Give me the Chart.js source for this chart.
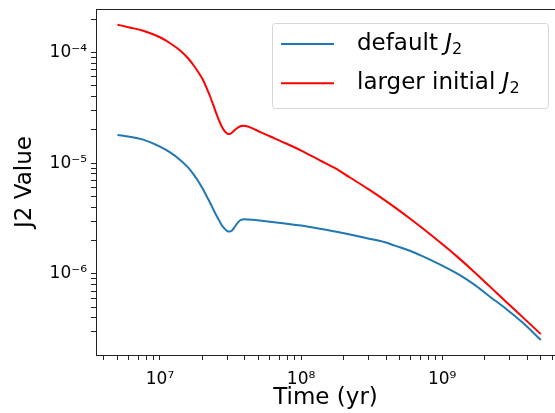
<!DOCTYPE html>
<html>
<head>
<meta charset="utf-8">
<script src="https://cdn.jsdelivr.net/npm/chart.js@4"></script>
<style>
  html, body { margin: 0; padding: 0; background: #fff; overflow: hidden; }
</style>
</head>
<body>
<canvas id="chart-j2" width="555" height="413"></canvas>
<script>
// time in years
const times = [
    5e6, 6.1e6, 7.6e6, 1e7, 1.18e7, 1.39e7, 1.58e7, 1.74e7, 1.89e7, 2.02e7,
    2.15e7, 2.26e7, 2.37e7, 2.49e7, 2.62e7, 2.75e7, 2.89e7, 3.0e7, 3.1e7, 3.24e7,
    3.4e7, 3.57e7, 3.75e7, 3.94e7, 4.2e7, 4.56e7, 5.1e7, 6e7, 7.7e7, 1e8,
    1.36e8, 1.74e8, 2.22e8, 2.98e8, 3.93e8, 4.62e8, 5.9e8, 7.3e8, 9.6e8, 1.27e9,
    1.65e9, 2.18e9, 2.87e9, 3.73e9, 5e9
];
const defaultJ2 = [
    1.80e-5, 1.73e-5, 1.63e-5, 1.41e-5, 1.25e-5, 1.07e-5, 9.15e-6, 7.83e-6, 6.70e-6, 5.81e-6,
    4.98e-6, 4.42e-6, 3.90e-6, 3.44e-6, 3.06e-6, 2.74e-6, 2.54e-6, 2.43e-6, 2.41e-6, 2.47e-6,
    2.68e-6, 2.92e-6, 3.08e-6, 3.11e-6, 3.10e-6, 3.08e-6, 3.03e-6, 2.96e-6, 2.85e-6, 2.73e-6,
    2.56e-6, 2.42e-6, 2.27e-6, 2.09e-6, 1.93e-6, 1.80e-6, 1.62e-6, 1.44e-6, 1.22e-6, 1.01e-6,
    8.17e-7, 6.23e-7, 4.78e-7, 3.62e-7, 2.53e-7
];
const largerJ2 = [
    1.78e-4, 1.68e-4, 1.57e-4, 1.37e-4, 1.21e-4, 1.04e-4, 8.86e-5, 7.58e-5, 6.49e-5, 5.63e-5,
    4.70e-5, 4.04e-5, 3.43e-5, 2.88e-5, 2.43e-5, 2.12e-5, 1.93e-5, 1.85e-5, 1.83e-5, 1.89e-5,
    2.00e-5, 2.10e-5, 2.17e-5, 2.18e-5, 2.14e-5, 2.05e-5, 1.92e-5, 1.75e-5, 1.52e-5, 1.30e-5,
    1.06e-5, 9.02e-6, 7.42e-6, 5.86e-6, 4.62e-6, 3.99e-6, 3.17e-6, 2.57e-6, 1.94e-6, 1.44e-6,
    1.07e-6, 7.68e-7, 5.53e-7, 4.05e-7, 2.86e-7
];
const seriesNames = ['default', 'larger initial'];
const seriesColors = ['#1f77b4', '#ff0000'];
const xTicks = [1e7, 1e8, 1e9];
const xTickLabels = ['10\u2077', '10\u2078', '10\u2079'];
const yTicks = [1e-6, 1e-5, 1e-4];
const yTickLabels = ['10\u207B\u2076', '10\u207B\u2075', '10\u207B\u2074'];

const FONT = '"DejaVu Sans", sans-serif';

function isDecadeStep(v) {
    const exp = Math.floor(Math.log10(v) + 1e-9);
    const sig = v / Math.pow(10, exp);
    return Math.abs(sig - Math.round(sig)) < 1e-6;
}
function keepLogTicks(scale) {
    scale.ticks = scale.ticks.filter(t => isDecadeStep(t.value));
}
function tickLabel(values, labels) {
    return function (value) {
        for (let i = 0; i < values.length; i++) {
            if (Math.abs(value / values[i] - 1) < 1e-6) return labels[i];
        }
        return '';
    };
}

const topSpine = {
    id: 'topSpine',
    afterDraw(chart) {
        const a = chart.chartArea;
        const ctx = chart.ctx;
        ctx.save();
        ctx.strokeStyle = '#222';
        ctx.lineWidth = 1;
        ctx.beginPath();
        ctx.moveTo(a.left, a.top + 0.5);
        ctx.lineTo(chart.width, a.top + 0.5);
        ctx.stroke();
        ctx.restore();
    }
};

const mathLegend = {
    id: 'mathLegend',
    afterDraw(chart) {
        const ctx = chart.ctx;
        const a = chart.chartArea;
        const w = 276, h = 85;
        const x0 = a.right - 7 - w, y0 = a.top + 14;
        ctx.save();
        ctx.fillStyle = 'rgba(255,255,255,0.8)';
        ctx.strokeStyle = '#d6d6d6';
        ctx.lineWidth = 1;
        ctx.beginPath();
        ctx.roundRect(x0 + 0.5, y0 + 0.5, w, h, 3);
        ctx.fill();
        ctx.stroke();
        chart.data.datasets.forEach((ds, i) => {
            const y = y0 + 21 + i * 39.3;
            ctx.strokeStyle = ds.borderColor;
            ctx.lineWidth = 2;
            ctx.beginPath();
            ctx.moveTo(x0 + 9, y);
            ctx.lineTo(x0 + 62, y);
            ctx.stroke();
            ctx.fillStyle = '#000';
            ctx.textBaseline = 'middle';
            ctx.font = '23px ' + FONT;
            const txt = seriesNames[i] + ' ';
            const tx = x0 + 85;
            ctx.fillText(txt, tx, y);
            const jx = tx + ctx.measureText(txt).width;
            ctx.font = 'italic 23px ' + FONT;
            ctx.fillText('J', jx, y);
            const sx = jx + ctx.measureText('J').width;
            ctx.font = '16px ' + FONT;
            ctx.fillText('2', sx, y + 6);
        });
        ctx.restore();
    }
};

const ctx = document.getElementById('chart-j2').getContext('2d');
const myChart = new Chart(ctx, {
    type: 'line',
    data: {
        datasets: [{
                label: seriesNames[0],
                data: times.map((t, i) => ({x: t, y: defaultJ2[i]})),
                borderColor: seriesColors[0],
                borderWidth: 2,
                pointRadius: 0,
                cubicInterpolationMode: 'monotone',
                fill: false
            }, {
                label: seriesNames[1],
                data: times.map((t, i) => ({x: t, y: largerJ2[i]})),
                borderColor: seriesColors[1],
                borderWidth: 2,
                pointRadius: 0,
                cubicInterpolationMode: 'monotone',
                fill: false
            }]
    },
    options: {
        responsive: false,
        animation: false,
        events: [],
        layout: {
            padding: {top: 9, right: 0, left: 0, bottom: 0}
        },
        plugins: {
            legend: {display: false},
            tooltip: {enabled: false}
        },
        scales: {
            x: {
                type: 'logarithmic',
                min: 3.52e6,
                max: 6.3e9,
                afterBuildTicks: keepLogTicks,
                afterFit: (scale) => { scale.height = 58; scale.paddingLeft = 0; scale.paddingRight = 0; },
                grid: {
                    drawOnChartArea: false,
                    tickLength: 5,
                    tickColor: '#222',
                    tickWidth: 1
                },
                border: {color: '#222', width: 1},
                ticks: {
                    autoSkip: false,
                    maxRotation: 0,
                    padding: 9,
                    color: '#000',
                    font: {family: FONT, size: 17},
                    callback: tickLabel(xTicks, xTickLabels)
                },
                title: {
                    display: true,
                    text: 'Time (yr)',
                    color: '#000',
                    font: {family: FONT, size: 23},
                    padding: {top: 0, bottom: 1}
                }
            },
            y: {
                type: 'logarithmic',
                min: 1.853e-7,
                max: 2.466e-4,
                afterBuildTicks: keepLogTicks,
                afterFit: (scale) => { scale.width = 96; scale.paddingTop = 0; scale.paddingBottom = 0; },
                grid: {
                    drawOnChartArea: false,
                    tickLength: 5,
                    tickColor: '#222',
                    tickWidth: 1
                },
                border: {color: '#222', width: 1},
                ticks: {
                    autoSkip: false,
                    padding: 4,
                    color: '#000',
                    font: {family: FONT, size: 17},
                    callback: tickLabel(yTicks, yTickLabels)
                },
                title: {
                    display: true,
                    text: 'J2 Value',
                    color: '#000',
                    font: {family: FONT, size: 23},
                    padding: {top: 11, bottom: 0}
                }
            }
        }
    },
    plugins: [topSpine, mathLegend]
});
</script>
</body>
</html>
